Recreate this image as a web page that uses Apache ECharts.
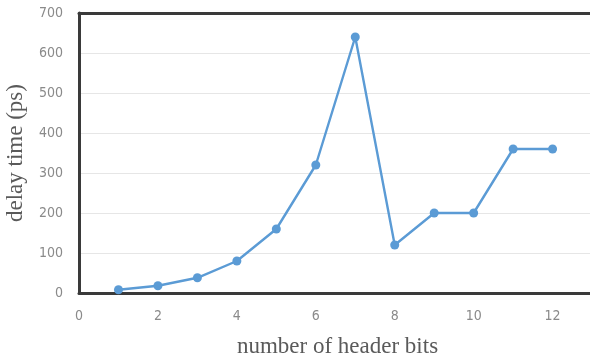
<!DOCTYPE html>
<html><head><meta charset="utf-8">
<script src="https://cdn.jsdelivr.net/npm/echarts@6/dist/echarts.min.js"></script>
<style>html,body{margin:0;padding:0;background:#fff}#c{width:590px;height:359px}</style>
</head><body><div id="c"></div>
<script>
var xValues = [1,2,3,4,5,6,7,8,9,10,11,12];
var delayValues = [8,18,38,80,160,320,640,120,200,200,360,360];
var xTicks = [0,2,4,6,8,10,12];
var yTicks = [0,100,200,300,400,500,600,700];

var frameLine = {show:true, lineStyle:{color:'#3a3a3a', width:3}};
var chart = echarts.init(document.getElementById('c'), null, {renderer:'canvas'});
chart.setOption({
  animation:false,
  grid:{left:79, top:13, right:-6, bottom:66, outerBoundsMode:'none', containLabel:false},
  xAxis:[{type:'value', min:0, max:13.1, interval:1,
    name:'number of header bits', nameLocation:'middle', nameGap:42,
    nameTextStyle:{fontFamily:'Liberation Serif', fontSize:23, color:'#5a5a5a'},
    axisLine:frameLine, axisTick:{show:false}, splitLine:{show:false},
    axisLabel:{color:'#8a8a8a', fontSize:14, margin:16, fontFamily:'DejaVu Sans Condensed, Liberation Sans',
      formatter:function(v){return xTicks.indexOf(v)>=0 ? String(v) : '';}}},
   {type:'value', position:'top', min:0, max:13.1, interval:1,
    axisLine:frameLine, axisTick:{show:false}, splitLine:{show:false}, axisLabel:{show:false}}],
  yAxis:{type:'value', min:0, max:700, interval:100,
    name:'delay time (ps)', nameLocation:'middle', nameGap:52, nameRotate:90,
    nameTextStyle:{fontFamily:'Liberation Serif', fontSize:23, color:'#5a5a5a'},
    axisLine:frameLine, axisTick:{show:false},
    splitLine:{lineStyle:{color:'#e6e6e6', width:1}},
    axisLabel:{color:'#8a8a8a', fontSize:14, margin:16, fontFamily:'DejaVu Sans Condensed, Liberation Sans',
      formatter:function(v){return yTicks.indexOf(v)>=0 ? String(v) : '';}}},
  series:[{type:'line', xAxisIndex:0, data:xValues.map(function(x,i){return [x, delayValues[i]];}),
    symbol:'circle', symbolSize:9,
    lineStyle:{color:'#5b9bd5', width:2.4},
    itemStyle:{color:'#5b9bd5'}}]
});
</script></body></html>
